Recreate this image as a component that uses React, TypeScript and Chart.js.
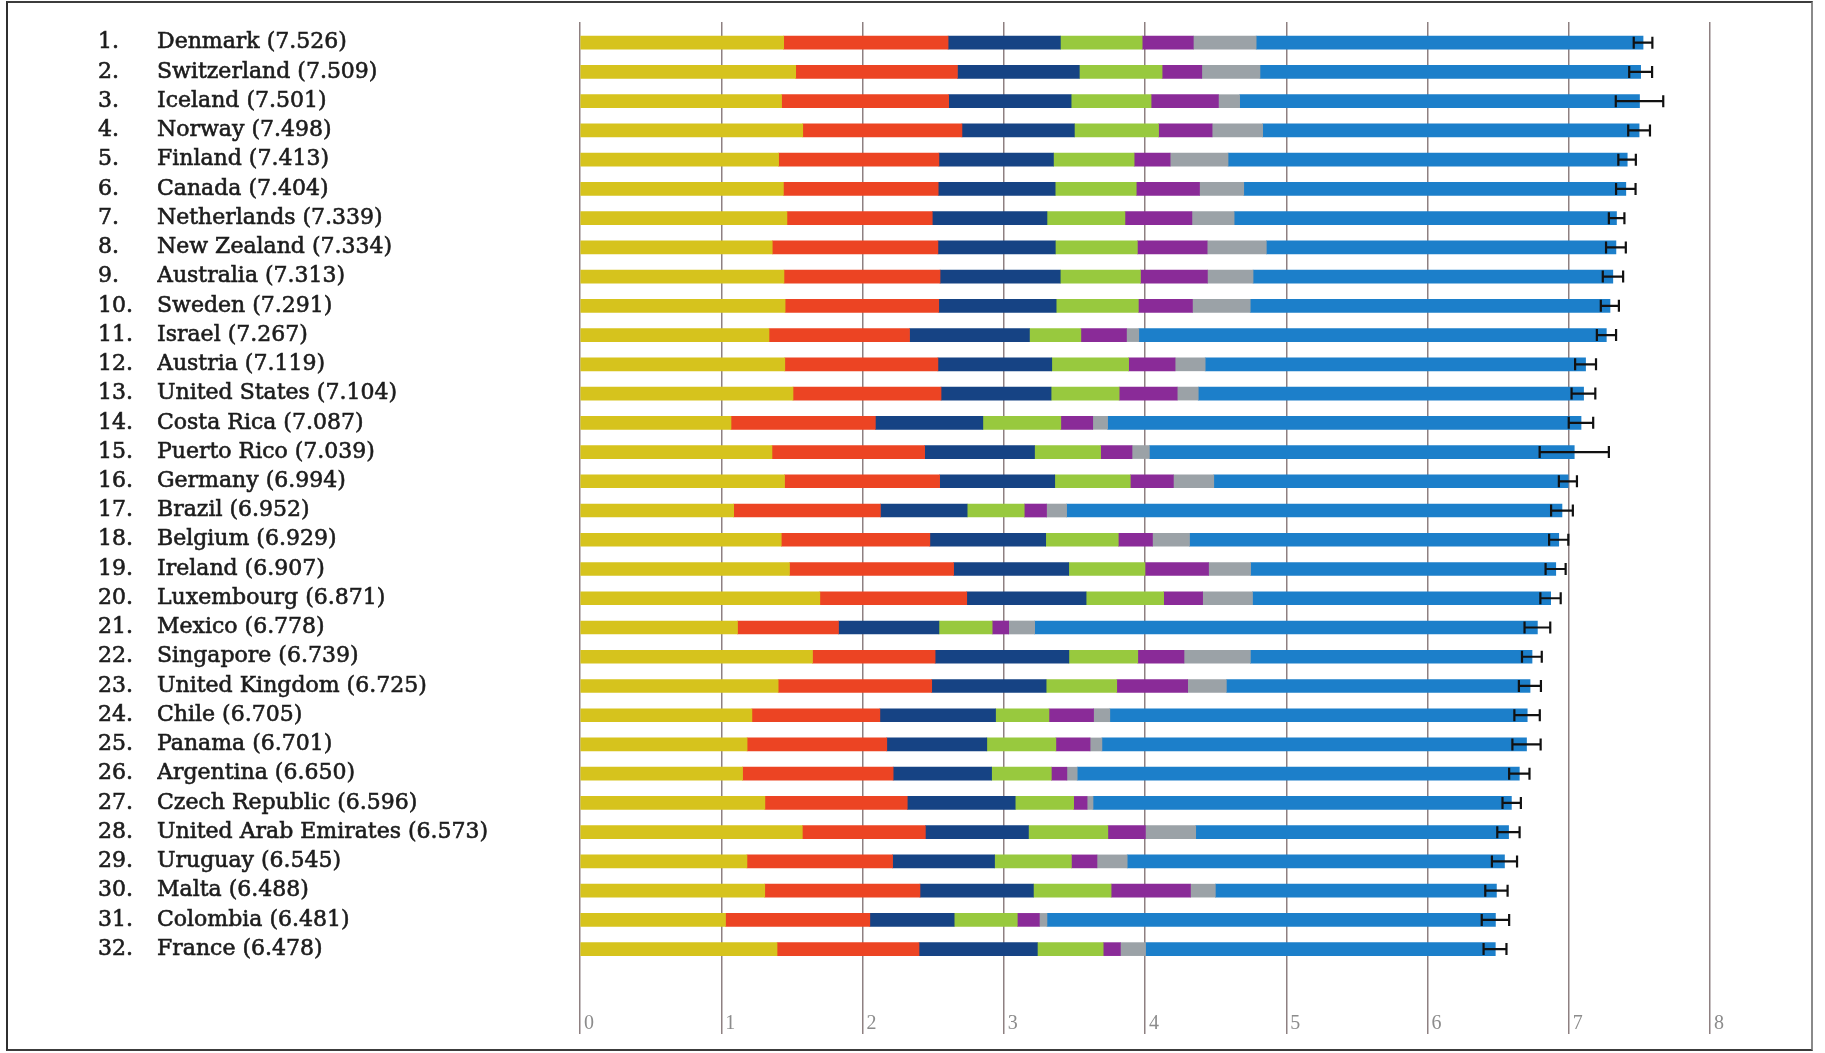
import { useEffect, useRef } from "react";
import { Chart, registerables } from "chart.js";

Chart.register(...registerables);

// Happiness ranking, top 32 countries, with the explained components of each score
const countries = [
  "Denmark", "Switzerland", "Iceland", "Norway", "Finland", "Canada", "Netherlands", "New Zealand",
  "Australia", "Sweden", "Israel", "Austria", "United States", "Costa Rica", "Puerto Rico", "Germany",
  "Brazil", "Belgium", "Ireland", "Luxembourg", "Mexico", "Singapore", "United Kingdom", "Chile",
  "Panama", "Argentina", "Czech Republic", "United Arab Emirates", "Uruguay", "Malta", "Colombia", "France",
];

const scores = [
  7.526, 7.509, 7.501, 7.498, 7.413, 7.404, 7.339, 7.334,
  7.313, 7.291, 7.267, 7.119, 7.104, 7.087, 7.039, 6.994,
  6.952, 6.929, 6.907, 6.871, 6.778, 6.739, 6.725, 6.705,
  6.701, 6.650, 6.596, 6.573, 6.545, 6.488, 6.481, 6.478,
];

const gdpPerCapita = [
  1.442, 1.527, 1.427, 1.577, 1.406, 1.440, 1.465, 1.361,
  1.444, 1.452, 1.338, 1.450, 1.508, 1.069, 1.359, 1.448,
  1.088, 1.425, 1.483, 1.698, 1.115, 1.646, 1.403, 1.217,
  1.183, 1.151, 1.309, 1.574, 1.182, 1.308, 1.030, 1.395,
];

const socialSupport = [
  1.164, 1.145, 1.183, 1.127, 1.135, 1.096, 1.029, 1.173,
  1.105, 1.088, 0.995, 1.084, 1.048, 1.022, 1.081, 1.098,
  1.039, 1.052, 1.162, 1.040, 0.715, 0.868, 1.087, 0.906,
  0.989, 1.066, 1.008, 0.871, 1.031, 1.099, 1.022, 1.005,
];

const healthyLife = [
  0.795, 0.863, 0.867, 0.796, 0.811, 0.828, 0.812, 0.831,
  0.851, 0.831, 0.849, 0.806, 0.779, 0.761, 0.778, 0.815,
  0.614, 0.820, 0.815, 0.845, 0.711, 0.947, 0.810, 0.819,
  0.708, 0.697, 0.764, 0.730, 0.722, 0.803, 0.597, 0.838,
];

const freedom = [
  0.579, 0.586, 0.566, 0.596, 0.571, 0.574, 0.552, 0.581,
  0.568, 0.582, 0.364, 0.544, 0.482, 0.552, 0.468, 0.535,
  0.404, 0.514, 0.540, 0.549, 0.377, 0.488, 0.500, 0.378,
  0.489, 0.423, 0.414, 0.562, 0.544, 0.550, 0.447, 0.466,
];

const generosity = [
  0.362, 0.281, 0.477, 0.379, 0.255, 0.448, 0.474, 0.494,
  0.474, 0.383, 0.323, 0.329, 0.411, 0.226, 0.222, 0.305,
  0.158, 0.242, 0.450, 0.276, 0.117, 0.327, 0.502, 0.316,
  0.242, 0.110, 0.095, 0.266, 0.181, 0.562, 0.156, 0.122,
];

const corruption = [
  0.445, 0.412, 0.150, 0.358, 0.410, 0.313, 0.299, 0.419,
  0.323, 0.409, 0.087, 0.213, 0.149, 0.105, 0.123, 0.286,
  0.142, 0.262, 0.298, 0.353, 0.184, 0.470, 0.274, 0.115,
  0.084, 0.073, 0.042, 0.356, 0.214, 0.176, 0.054, 0.178,
];

const dystopiaResidual = [
  2.739, 2.695, 2.831, 2.665, 2.826, 2.705, 2.707, 2.475,
  2.547, 2.547, 3.310, 2.693, 2.728, 3.352, 3.008, 2.509,
  3.507, 2.614, 2.160, 2.111, 3.559, 1.994, 2.150, 2.955,
  3.006, 3.130, 2.962, 2.215, 2.671, 1.990, 3.175, 2.476,
];

const ciLow = [
  7.460, 7.428, 7.333, 7.421, 7.351, 7.335, 7.284, 7.264,
  7.241, 7.227, 7.199, 7.045, 7.020, 7.000, 6.794, 6.930,
  6.875, 6.861, 6.836, 6.799, 6.687, 6.669, 6.647, 6.615,
  6.601, 6.578, 6.531, 6.494, 6.456, 6.409, 6.384, 6.397,
];

const ciHigh = [
  7.592, 7.590, 7.669, 7.575, 7.475, 7.473, 7.394, 7.404,
  7.385, 7.355, 7.335, 7.193, 7.188, 7.173, 7.284, 7.058,
  7.029, 6.997, 6.978, 6.943, 6.869, 6.809, 6.803, 6.795,
  6.801, 6.722, 6.661, 6.652, 6.634, 6.567, 6.578, 6.559,
];

const xTicks = [0, 1, 2, 3, 4, 5, 6, 7, 8];

const nameLabels = countries.map((c, i) => `${c} (${scores[i].toFixed(3)})`);
const rankLabels = countries.map((_, i) => `${i + 1}.`);

const segments = [
  { label: "GDP per capita", values: gdpPerCapita, color: "#d6c31d" },
  { label: "Social support", values: socialSupport, color: "#ec4423" },
  { label: "Healthy life expectancy", values: healthyLife, color: "#164384" },
  { label: "Freedom to make life choices", values: freedom, color: "#98c93e" },
  { label: "Generosity", values: generosity, color: "#8a2b98" },
  { label: "Perceptions of corruption", values: corruption, color: "#9ba2a7" },
  { label: "Dystopia + residual", values: dystopiaResidual, color: "#1c7fca" },
];

// row index range shown on the vertical axes (rank 1 at index 0, top)
const rowMin = -0.708;
const rowMax = 32.74;

// 95% confidence interval whiskers drawn on top of the stacked bars
const errorBars = {
  id: "errorBars",
  afterDatasetsDraw(chart: any) {
    const xs = chart.scales.x;
    const ys = chart.scales.y;
    const ctx = chart.ctx;
    ctx.save();
    ctx.strokeStyle = "#111111";
    ctx.lineWidth = 2.2;
    ciLow.forEach((lo, i) => {
      const y = ys.getPixelForValue(i);
      const x1 = xs.getPixelForValue(lo);
      const x2 = xs.getPixelForValue(ciHigh[i]);
      ctx.beginPath();
      ctx.moveTo(x1, y);
      ctx.lineTo(x2, y);
      ctx.moveTo(x1, y - 6);
      ctx.lineTo(x1, y + 6);
      ctx.moveTo(x2, y - 6);
      ctx.lineTo(x2, y + 6);
      ctx.stroke();
    });
    ctx.restore();
  },
};

const rowTicks = (scale: any) => {
  scale.ticks = countries.map((_, i) => ({ value: i }));
};

export default function App() {
  const canvasRef = useRef<HTMLCanvasElement | null>(null);

  useEffect(() => {
    document.body.style.overflow = "hidden";
    const canvas = canvasRef.current;
    if (!canvas) return;

    const labelFont = { family: "'DejaVu Serif', serif", size: 22 };

    const chart = new Chart(canvas, {
      type: "bar",
      data: {
        datasets: segments.map((s) => ({
          label: s.label,
          data: s.values.map((v, i) => ({ x: v, y: i })),
          backgroundColor: s.color,
          borderWidth: 0,
          barThickness: 13,
        })),
      },
      options: {
        animation: false,
        responsive: true,
        maintainAspectRatio: false,
        indexAxis: "y",
        layout: { padding: { left: 98, right: 115, top: 22, bottom: 13 } },
        plugins: {
          legend: { display: false },
          tooltip: { enabled: false },
        },
        scales: {
          x: {
            type: "linear",
            position: "bottom",
            stacked: true,
            min: 0,
            max: 8,
            afterBuildTicks: (scale: any) => {
              scale.ticks = xTicks.map((v) => ({ value: v }));
            },
            afterFit: (scale: any) => {
              scale.height = 40;
            },
            grid: {
              color: "#8e8081",
              lineWidth: 1.5,
              drawTicks: true,
              tickLength: 34,
            },
            border: { display: false },
            ticks: {
              align: "start",
              labelOffset: 4,
              padding: -22,
              color: "#8c8c8c",
              font: { family: "'Liberation Serif', serif", size: 20 },
              maxRotation: 0,
              autoSkip: false,
            },
          },
          y: {
            type: "linear",
            position: "left",
            stacked: true,
            reverse: true,
            offset: false,
            min: rowMin,
            max: rowMax,
            weight: 0,
            afterBuildTicks: rowTicks,
            afterFit: (scale: any) => {
              scale.width = 423;
            },
            grid: { display: false, offset: false },
            border: { display: false },
            ticks: {
              crossAlign: "far",
              autoSkip: false,
              color: "#1c1c1c",
              textStrokeColor: "#1c1c1c",
              textStrokeWidth: 0.6,
              font: labelFont,
              callback: (_v: any, i: number) => nameLabels[i],
            },
          },
          yRank: {
            type: "linear",
            axis: "y",
            position: "left",
            reverse: true,
            offset: false,
            min: rowMin,
            max: rowMax,
            weight: 1,
            afterBuildTicks: rowTicks,
            afterFit: (scale: any) => {
              scale.width = 59;
            },
            grid: { display: false, offset: false },
            border: { display: false },
            ticks: {
              crossAlign: "far",
              autoSkip: false,
              color: "#1c1c1c",
              textStrokeColor: "#1c1c1c",
              textStrokeWidth: 0.6,
              font: labelFont,
              callback: (_v: any, i: number) => rankLabels[i],
            },
          },
        },
      } as any,
      plugins: [errorBars],
    });

    return () => chart.destroy();
  }, []);

  return (
    <div
      style={{
        position: "absolute",
        left: 0,
        top: 0,
        width: 1825,
        height: 1053,
        background: "#ffffff",
      }}
    >
      <canvas ref={canvasRef} />
      <div
        style={{
          position: "absolute",
          left: 6,
          top: 1,
          width: 1807,
          height: 1050,
          boxSizing: "border-box",
          borderTop: "2px solid #3c3c3c",
          borderLeft: "2px solid #2f2f2f",
          borderBottom: "2px solid #3c3c3c",
          borderRight: "2px solid #8a8a8a",
          pointerEvents: "none",
        }}
      />
    </div>
  );
}
